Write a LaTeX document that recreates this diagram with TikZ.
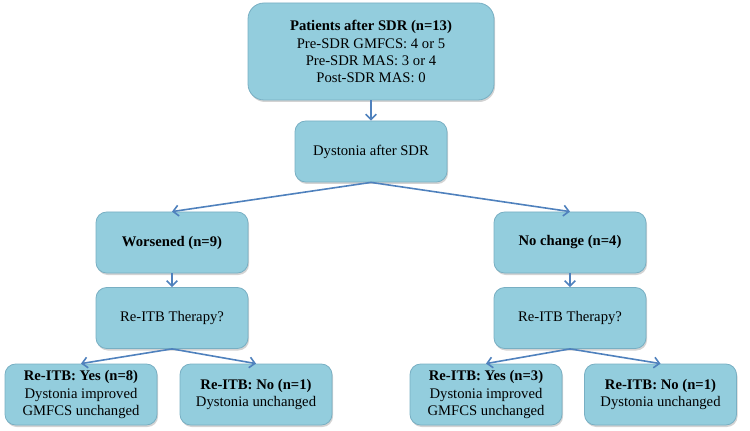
\documentclass[tikz,border=0pt]{standalone}
\usepackage{fontspec}
\setmainfont{Liberation Serif}
\usetikzlibrary{arrows.meta,shadows}
\definecolor{boxfill}{RGB}{147,205,221}
\definecolor{boxline}{RGB}{120,175,195}
\definecolor{arrowc}{RGB}{79,129,189}
\tikzset{
  box/.style={draw=boxline, fill=boxfill, line width=0.6pt, rounded corners=8pt,
    minimum width=114pt, minimum height=45.75pt, align=center, inner sep=2pt,
    font=\fontsize{11}{12.8}\selectfont,
    drop shadow={opacity=0.35, shadow xshift=0.8pt, shadow yshift=-1.5pt, fill=gray}},
  topbox/.style={box, minimum width=184.5pt, minimum height=72.75pt, rounded corners=12pt},
  conn/.style={draw=arrowc, line width=1.2pt, -{Straight Barb[length=4pt,width=8pt]}}
}
\begin{document}
\begin{tikzpicture}[x=0.75pt,y=-0.75pt]
\path[use as bounding box] (0,0) rectangle (750,431);
\node[topbox] (top) at (371,51.5) {\textbf{Patients after SDR (n=13)}\\Pre-SDR GMFCS: 4 or 5\\Pre-SDR MAS: 3 or 4\\Post-SDR MAS: 0};
\node[box] (dys) at (371,151.5) {Dystonia after SDR};
\node[box] (wor) at (172,242.5) {\textbf{Worsened (n=9)}};
\node[box] (noc) at (570,242.5) {\textbf{No change (n=4)}};
\node[box] (rl) at (172,318) {Re-ITB Therapy?};
\node[box] (rr) at (570,318) {Re-ITB Therapy?};
\node[box] (yl) at (81,394.5) {\textbf{Re-ITB: Yes (n=8)}\\Dystonia improved\\GMFCS unchanged};
\node[box] (nl) at (256,394.5) {\textbf{Re-ITB: No (n=1)}\\Dystonia unchanged};
\node[box] (yr) at (486,394.5) {\textbf{Re-ITB: Yes (n=3)}\\Dystonia improved\\GMFCS unchanged};
\node[box] (nr) at (660.5,394.5) {\textbf{Re-ITB: No (n=1)}\\Dystonia unchanged};
\draw[conn] (top) -- (dys);
\draw[conn] (dys.south) -- (wor.north);
\draw[conn] (dys.south) -- (noc.north);
\draw[conn] (wor) -- (rl);
\draw[conn] (noc) -- (rr);
\draw[conn] (rl.south) -- (yl.north);
\draw[conn] (rl.south) -- (nl.north);
\draw[conn] (rr.south) -- (yr.north);
\draw[conn] (rr.south) -- (nr.north);
\end{tikzpicture}
\end{document}
